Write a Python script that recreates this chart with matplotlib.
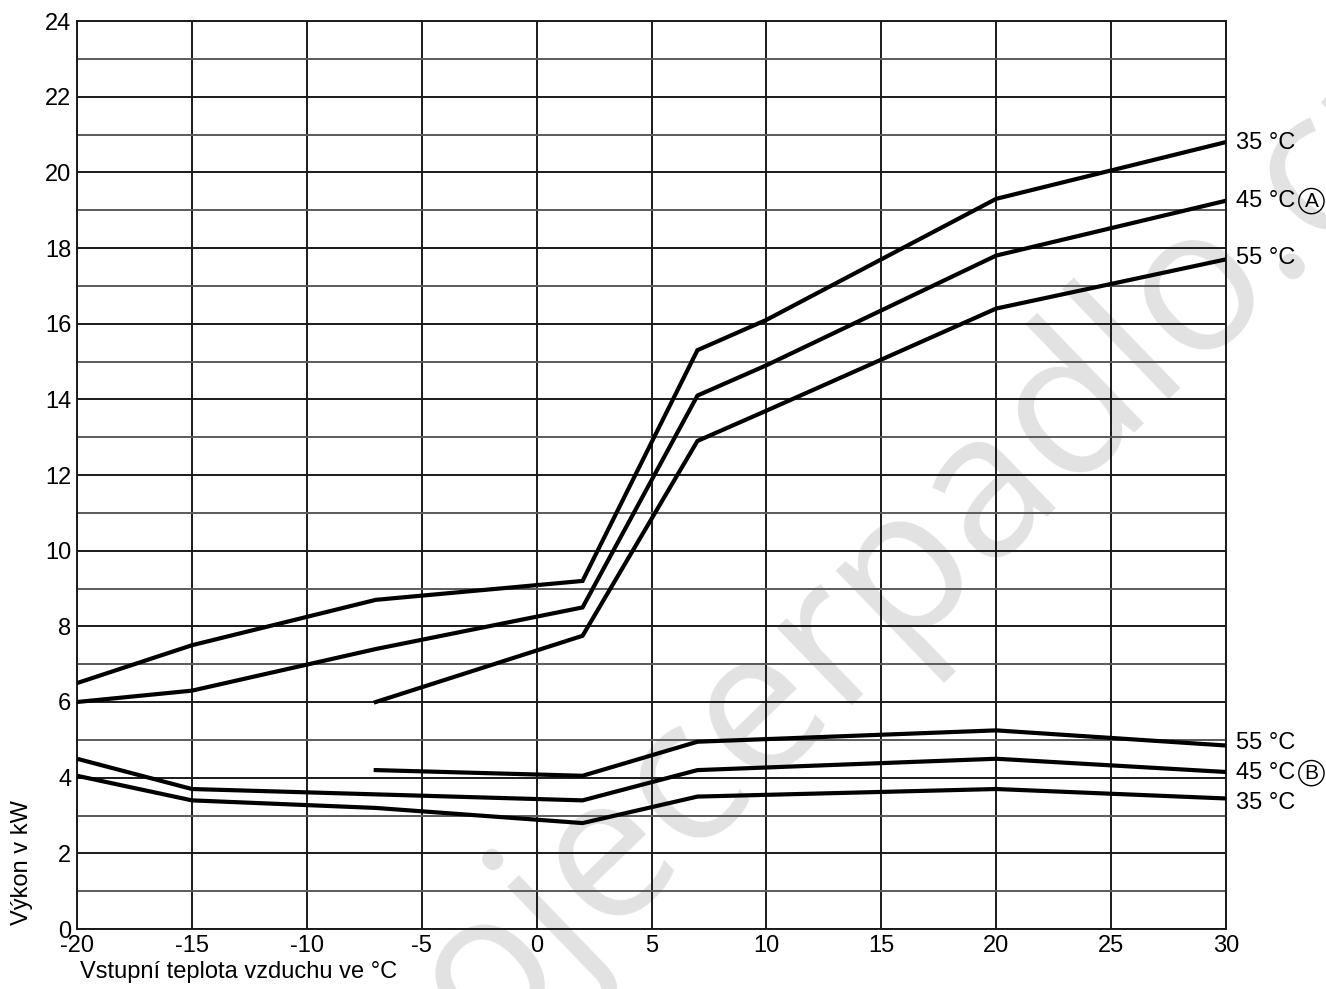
import matplotlib

matplotlib.use("Agg")
import matplotlib.pyplot as plt

plt.rcParams["font.family"] = ["Liberation Sans", "DejaVu Sans"]
plt.rcParams["axes.unicode_minus"] = False

# heating output curves (A = max, B = min), flow temperature in label
temp_a35 = [-20, -15, -7, 2, 7, 10, 20, 30]
kw_a35 = [6.5, 7.5, 8.7, 9.2, 15.3, 16.1, 19.3, 20.8]
temp_a45 = [-20, -15, -7, 2, 7, 10, 20, 30]
kw_a45 = [6.0, 6.3, 7.4, 8.5, 14.1, 14.9, 17.8, 19.25]
temp_a55 = [-7, 2, 7, 10, 20, 30]
kw_a55 = [6.0, 7.75, 12.9, 13.7, 16.4, 17.7]

temp_b55 = [-7, 2, 7, 20, 30]
kw_b55 = [4.2, 4.05, 4.95, 5.25, 4.85]
temp_b45 = [-20, -15, 2, 7, 20, 30]
kw_b45 = [4.5, 3.7, 3.4, 4.2, 4.5, 4.15]
temp_b35 = [-20, -15, -7, 2, 7, 20, 30]
kw_b35 = [4.05, 3.4, 3.2, 2.8, 3.5, 3.7, 3.45]

curve_labels = ["35 °C", "45 °C", "55 °C", "55 °C", "45 °C", "35 °C"]
label_y = [20.78, 19.24, 17.74, 4.92, 4.12, 3.33]
x_ticks = list(range(-20, 31, 5))
y_ticks = list(range(0, 25, 2))

fig = plt.figure(figsize=(13.26, 9.89), dpi=100)
ax = fig.add_axes([77 / 1326, 60 / 989, 1149 / 1326, 908 / 989])

# watermark, kept under the grid
fig.text(
    481, -63, "ojecerpadlo.cz", transform=None, fontsize=145, color="#e2e2e2",
    family="Open Sans",
    rotation=44, rotation_mode="anchor", ha="left", va="baseline", zorder=-1,
)
ax.patch.set_alpha(0)

for x in x_ticks:
    ax.axvline(x, color="#1a1a1a", lw=1.4, zorder=2)
for y in range(0, 25):
    ax.axhline(y, color="#1a1a1a" if y % 2 == 0 else "#5a5a5a", lw=1.4, zorder=2)

for xs, ys in [
    (temp_a35, kw_a35), (temp_a45, kw_a45), (temp_a55, kw_a55),
    (temp_b55, kw_b55), (temp_b45, kw_b45), (temp_b35, kw_b35),
]:
    ax.plot(xs, ys, color="black", lw=3.0, solid_joinstyle="miter", zorder=3)

for text, y in zip(curve_labels, label_y):
    ax.annotate(text, (30, y), xytext=(7, 0), textcoords="offset points",
                fontsize=17, ha="left", va="center", annotation_clip=False)

# circled letters A and B
for letter, y in [("A", label_y[1]), ("B", label_y[4])]:
    ax.annotate(letter, (30, y), xytext=(61.5, 0), textcoords="offset points",
                fontsize=15, ha="center", va="center", annotation_clip=False,
                bbox=dict(boxstyle="circle,pad=0.15", fc="none", ec="black", lw=1.0))

ax.set_xlim(-20, 30)
ax.set_ylim(0, 24)
ax.set_xticks(x_ticks)
ax.set_yticks(y_ticks)
ax.tick_params(length=0, labelsize=17, pad=4)
for s in ax.spines.values():
    s.set_color("#1a1a1a")
    s.set_linewidth(1.4)
    s.set_zorder(2)

fig.text(22 / 1326, 64 / 989, "Výkon v kW", rotation=90, fontsize=17,
         ha="center", va="bottom")
fig.text(80 / 1326, 17 / 989, "Vstupní teplota vzduchu ve °C", fontsize=17,
         ha="left", va="center")

fig.savefig("out.png", dpi=100)
